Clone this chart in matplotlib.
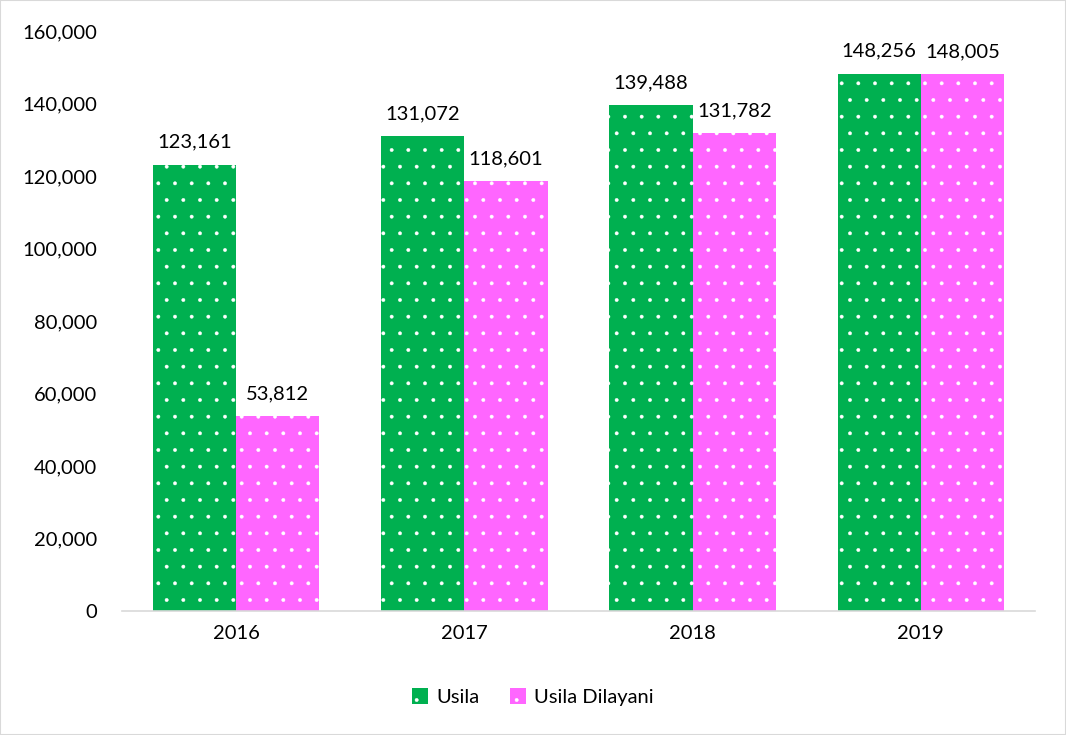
import matplotlib
matplotlib.use('Agg')
import numpy as np
from matplotlib import pyplot as plt
from matplotlib.patches import Rectangle
from matplotlib.ticker import FuncFormatter

years = ['2016', '2017', '2018', '2019']
usila = [123161, 131072, 139488, 148256]
usila_dilayani = [53812, 118601, 131782, 148005]
series_names = ['Usila', 'Usila Dilayani']

green = '#00B050'
pink = '#FF66FF'

plt.rcParams['font.family'] = ['Lato', 'DejaVu Sans']
plt.rcParams['hatch.color'] = 'white'
plt.rcParams['hatch.linewidth'] = 0.3

fig = plt.figure(figsize=(10.66, 7.35), dpi=100)
ax = fig.add_axes([122 / 1066, 1 - 611 / 735, (1035 - 122) / 1066, 580 / 735])

x = np.arange(len(years))
w = 0.365
b1 = ax.bar(x - w / 2, usila, w, color=green, hatch='.', linewidth=0, label=series_names[0])
b2 = ax.bar(x + w / 2, usila_dilayani, w, color=pink, hatch='.', linewidth=0, label=series_names[1])

for bars in (b1, b2):
    for r in bars:
        ax.annotate('{:,}'.format(int(r.get_height())),
                    (r.get_x() + r.get_width() / 2, r.get_height()),
                    xytext=(0, 10), textcoords='offset points',
                    ha='center', va='bottom', fontsize=14.5, color='#000000')

ax.set_xlim(-0.5, len(years) - 0.5)
ax.set_ylim(0, 160000)
ax.set_yticks(range(0, 160001, 20000))
ax.yaxis.set_major_formatter(FuncFormatter(lambda v, p: '{:,}'.format(int(v))))
ax.set_xticks(x)
ax.set_xticklabels(years)
ax.tick_params(axis='both', length=0, labelsize=14.5, colors='#000000')
ax.tick_params(axis='y', pad=18)
ax.tick_params(axis='x', pad=10)

for s in ['top', 'right', 'left']:
    ax.spines[s].set_visible(False)
ax.spines['bottom'].set_color('#D9D9D9')
ax.spines['bottom'].set_linewidth(1.2)

leg = fig.legend(handles=[b1, b2], loc='center', bbox_to_anchor=(0.5, 1 - 697 / 735),
                 ncol=2, frameon=False, fontsize=14.5, handlelength=0.8, handleheight=0.8,
                 handletextpad=0.4, columnspacing=1.5)

fig.patches.append(Rectangle((0, 0), 1, 1, transform=fig.transFigure, fill=False,
                             edgecolor='#D9D9D9', linewidth=1.5))

fig.savefig('out.png', dpi=100)
